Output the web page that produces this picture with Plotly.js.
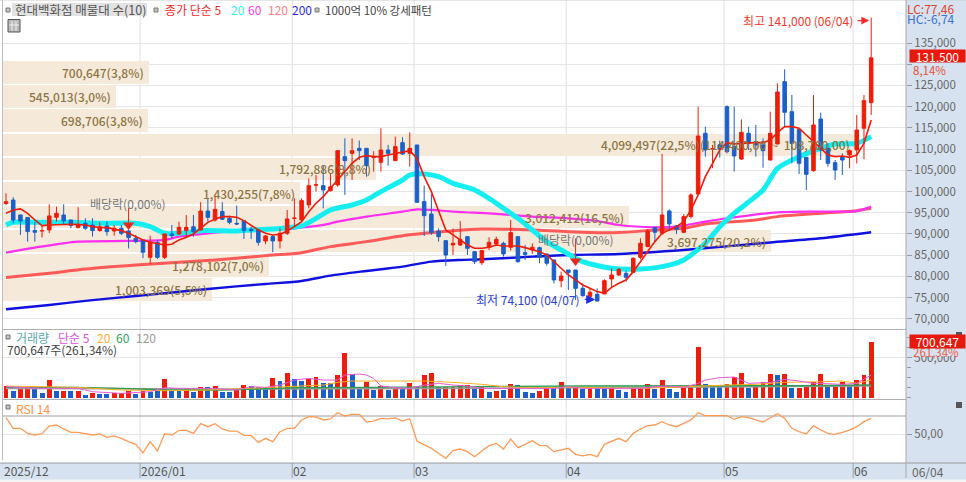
<!DOCTYPE html>
<html><head><meta charset="utf-8">
<script src="https://cdn.plot.ly/plotly-3.0.1.min.js"></script>
<style>html,body{margin:0;padding:0;background:#fff}</style></head>
<body><div id="chart" style="width:966px;height:482px"></div>
<script>
const opens=[97200,98000,94480,93900,90800,90700,90950,93930,94480,93300,91500,92500,92100,90800,91900,90700,91340,90700,89000,88600,84500,88000,84500,90000,90000,90800,91700,90950,95400,93300,95300,93700,92500,93150,91100,90950,88360,89380,88360,90160,93650,93300,96840,101500,101390,100200,101540,108220,109000,110180,110180,108000,106890,109790,107280,111520,109000,110970,97620,94710,90700,88430,87410,87410,89370,85840,83250,86860,87650,87800,86860,89370,85600,86230,86780,85300,83880,79000,81520,81520,77200,75230,75800,75870,79400,80340,80730,80970,84500,87020,91500,90160,95420,91890,90400,94090,99430,113720,110000,111000,120000,110580,107670,113720,111770,110970,107430,111200,125890,118820,114660,108060,104920,117100,110180,106810,108220,108620,109790,114900,120940];
const highs=[99600,98650,94500,94000,92900,92100,97000,96450,97000,93300,96300,93700,93700,92750,92900,92100,92100,91000,89770,88800,89600,88600,90000,92100,92900,94480,94480,97500,98400,98800,97500,94300,96700,93150,91700,90950,89770,89770,91340,95660,98400,98400,103100,103900,106257,104300,109630,112540,112540,112000,110180,109500,114900,111000,112930,112780,113950,110970,101390,99430,91340,88430,91340,93060,89370,85840,86080,89210,89370,88200,93300,89370,87410,87800,87000,85300,83880,81130,81520,81520,78380,77200,77200,79320,81910,81910,81360,84500,88980,91100,91730,108850,95820,92120,94720,99580,120000,115290,111000,112000,120300,120000,117000,115290,115680,112540,118820,125500,128800,122750,114660,108060,122750,118590,111360,107430,109000,109950,118040,122750,141000];
const lows=[96800,92500,89770,88200,88200,89150,90200,92900,92100,91340,91340,90950,89380,90550,89600,89600,89770,86600,87800,84300,82860,84100,84100,89000,89770,89000,89380,90800,92900,92900,93300,92300,92100,88830,88800,87260,87570,85700,86600,89770,91700,93070,96050,100000,96050,100000,101150,99190,102730,107430,103500,104700,104700,106100,107280,108600,105860,97460,89530,89770,88200,82460,85050,87180,85050,82930,82700,86230,87180,84660,86080,83250,83880,85300,83100,82540,78380,77440,76800,74450,75230,74450,74100,75870,77440,80100,78770,80970,84030,87020,88200,89770,90950,90000,90160,93700,99190,108220,105500,108000,109000,104700,107430,109790,108220,105630,107280,111200,115450,106650,104140,100370,104690,107430,105870,102730,103900,105470,106650,107600,118040];
const closes=[97600,93300,93070,90560,90400,90800,94250,94870,93070,92000,92300,91340,90800,91700,90550,91340,90160,89150,88200,85700,88050,84500,90000,89600,91570,91570,90550,95400,93930,95800,93460,92750,92360,90800,90800,88050,89530,88360,90160,93540,93750,97860,101390,101600,100370,101100,109630,107280,109630,109630,106100,108100,109790,109000,110580,108850,110180,97460,94320,90320,89370,85050,87800,88740,86620,83480,86080,88040,88740,85300,90320,83480,85200,86860,84500,83100,79170,80100,80900,77200,75470,76260,74200,79000,80340,81680,79800,84270,87800,90700,90400,94480,92360,91100,94090,99190,113090,109790,110100,110000,109400,108380,113950,111360,110970,109630,113720,123460,118670,111360,106650,104060,115680,109790,106650,105080,107430,109630,114500,121400,131500];
const ma5=[94870,95660,95900,94870,93300,91970,92130,92200,92360,92280,92200,92130,91735,91500,91500,91190,90790,90160,89380,88600,88050,87650,87420,87570,88600,89220,90000,91340,92750,93540,94090,94090,93930,93150,92130,90950,90160,89770,89930,90710,91735,92910,95260,97230,98800,100760,102720,104690,106650,108060,108460,108220,108220,108610,109000,109240,109630,107830,103510,99980,95660,90950,89770,88590,87410,86630,86630,86860,87410,87170,87170,87170,86780,86390,85840,85050,83480,81910,80340,79170,77990,77200,76420,76020,77440,78380,79160,81130,83480,85840,88200,90160,90950,91730,92910,95660,99190,103510,106650,109790,111520,111210,111360,111520,111520,111520,112150,113880,115290,115290,114900,113330,111760,110190,108620,108220,108380,108060,108620,111360,116860];
const ma20X=[0,1,4,9,13,18,20,22,24,27,32,34,38,41,43,45,48,50,52,55,56,58,60,62,65,67,69,71,73,75,77,80,84,88,91,94,97,99,101,105,107,110,113,115,118,120];
const ma20Y=[92130,92760,92760,92760,92520,92520,91735,90160,90160,90790,90710,90950,91300,91890,93690,95660,96830,98010,99980,102720,103900,104140,103510,101940,100370,98400,96050,93690,90950,88200,86230,83480,81910,81750,82300,83880,87800,91730,94870,100370,105470,108220,110190,111210,111360,112930];
const ma60X=[0,4,10,17,22,24,28,33,40,44,46,50,55,57,59,62,65,69,73,78,82,85,90,93,97,100,107,113,118,120];
const ma60Y=[85610,86790,88200,88360,88600,89380,90160,90790,91340,92130,92910,94080,95260,95810,95660,95260,95030,94640,94080,93690,93060,92120,91570,91730,92910,93700,95110,95270,95400,96440];
const ma120X=[0,6,11,18,29,36,41,45,50,55,58,62,66,73,78,85,90,94,97,104,107,113,118,120];
const ma120Y=[79720,80740,81760,82700,83890,84900,85600,87020,88200,89610,90160,90790,91180,90950,90550,90320,90950,91340,92360,93300,94090,94870,95500,96050];
const ma200X=[0,6,11,18,22,28,36,41,45,50,55,59,63,66,73,78,85,94,106,113,120];
const ma200Y=[72265,73280,74230,75400,76030,77050,78230,78930,80190,81290,82310,83480,83880,84030,84660,85050,85290,86230,88000,88980,90400];
const volumes=[150000,83000,108000,150000,108000,54000,221000,83000,88000,83000,79000,33000,63000,46000,46000,54000,54000,79000,50000,83000,75000,108000,234000,83000,83000,104000,71000,138000,138000,146000,71000,71000,96000,158000,146000,133000,133000,242000,209000,304000,229000,209000,229000,254000,184000,184000,279000,559000,296000,125000,200000,92000,146000,96000,129000,125000,188000,129000,279000,304000,138000,138000,138000,158000,158000,104000,129000,67000,88000,96000,171000,158000,75000,54000,88000,129000,129000,192000,117000,117000,104000,117000,117000,117000,117000,92000,75000,104000,138000,171000,104000,217000,104000,67000,117000,138000,630000,171000,138000,138000,167000,254000,304000,125000,138000,192000,292000,279000,292000,125000,125000,138000,192000,292000,138000,138000,192000,158000,221000,279000,700647];
const volFlags=("rbrrbbrbrb"+"rbrbbrrrbr"+"bbrbbrbrbr"+"bbrrbbbrbr"+"bbrrbbrrbb"+"rbrbrbrbrr"+"brrrrbrbrb"+"rbbbrrbrbr"+"brbbrbbrrr"+"brbbrrrbbb"+"rrrbrrrbrb"+"rrrrbrrbrr"+"r").split("");
const volMa5X=[0,5,10,12,16,20,22,24,28,32,34,36,38,40,42,44,46,47,49,50,51,52,54,56,58,60,62,64,66,70,73,76,78,80,84,88,90,92,94,96,97,99,101,103,106,108,110,112,114,116,118,120];
const volMa5Y=[138000,117000,117000,75000,54000,75000,125000,117000,117000,96000,138000,129000,158000,221000,242000,221000,221000,284000,296000,284000,242000,146000,125000,117000,158000,179000,158000,146000,117000,117000,117000,117000,138000,117000,117000,117000,138000,146000,129000,179000,221000,250000,259000,179000,192000,229000,209000,179000,175000,167000,179000,284000];
const volMa20X=[0,10,16,22,28,34,38,44,46,48,52,58,62,66,69,72,80,88,92,96,100,104,108,113,116,118,120];
const volMa20Y=[146000,129000,96000,88000,96000,117000,129000,158000,192000,209000,209000,209000,192000,167000,138000,125000,129000,117000,129000,146000,158000,167000,192000,200000,209000,179000,221000];
const volMa60X=[0,10,16,22,30,40,50,60,70,80,90,100,110,120];
const volMa60Y=[129000,129000,117000,96000,96000,125000,129000,138000,142000,146000,146000,150000,150000,158000];
const volMa120X=[0,30,60,90,120];
const volMa120Y=[117000,108000,117000,133000,146000];
const rsi=[68.1,56.3,56.3,50.7,48.9,50.4,58.9,60,55.6,51.9,51.9,50,48.9,50,46.3,47.8,45.2,41.5,38.5,28.9,41.5,31.1,50.4,48.9,54.1,54.1,50.7,61.5,58.1,61.5,55.6,53.3,53.3,48.5,48.1,40.7,45.2,41.5,52.6,56.3,56.3,65.6,69.3,68.9,65.6,66.7,73.7,70,71.9,71.9,63.3,64.4,67.4,66.7,67.8,64.4,67,42.2,38.5,34.1,28.5,23,31.5,33.3,30.4,24.8,31.1,37,39.6,33.3,44.4,34.8,38.5,42.6,37.4,37,30.4,32.2,34.1,27.4,25.6,27.4,24.8,38.5,42.2,45.2,41.5,50.7,55.6,59.3,60,63.7,60,58.1,61.9,65.6,73.7,70.4,70.4,70.4,70.4,66.3,69.3,68.1,65.6,63.3,68.1,72.6,67.4,56.3,52.6,50,59.3,54.4,50.7,49.6,51.9,54.4,58.1,63.7,67.4];
const profileVolumes=[700647,545013,698706,4099497,1792886,1430255,3012412,3697275,1278102,1003369];
const profilePrices=[128050,122370,116690,111010,105330,99650,93970,88290,82610,76930];
const profileLabels=["700,647(3,8%)","545,013(3,0%)","698,706(3,8%)","4,099,497(22,5%)(114,400,00&nbsp;&nbsp;~&nbsp;&nbsp;108,700,00)","1,792,886(9,8%)","1,430,255(7,8%)","3,012,412(16,5%)","3,697,275(20,2%)","1,278,102(7,0%)","1,003,369(5,5%)"];
const priceTicks=[70000,75000,80000,85000,90000,95000,100000,105000,110000,115000,120000,125000,130000,135000];
const priceTickLabels=["70,000","75,000","80,000","85,000","90,000","95,000","100,000","105,000","110,000","115,000","120,000","125,000","","135,000"];
const monthIdx=[18.6,39.7,56.6,77.7,99.6,117.5];
const monthLabels=["2025/12","2026/01","02","03","04","05","06"];
const dividendIdx=[17,79];
const dividendPrice=[92120,83640];
const dividendTop=[96120,88950];

const W=966,H=482,L=3,R=60,T=0,B=22,PW=W-L-R,PH=H-T-B;
const px=x=>(x-L)/PW, py=y=>1-(y-T)/PH;
const FONT='"Noto Sans CJK KR","Noto Sans",sans-serif';
const IDX=[-0.416,124.83];
const PRED='#ee1c0a',PBLUE='#1c5fc9';

function note(x,y,text,color,size,anchor,extra){
  return Object.assign({xref:'paper',yref:'paper',x:px(x),y:py(y),text:text,showarrow:false,xanchor:anchor||'left',yanchor:'middle',
    font:{family:FONT,size:size||12,color:color},borderpad:0,borderwidth:0},extra||{});
}
function rect(x0,y0,x1,y1,fill,line,layer){
  return {type:'rect',xref:'paper',yref:'paper',x0:px(x0),x1:px(x1),y0:py(y0),y1:py(y1),fillcolor:fill,line:{color:line||fill,width:line?1:0},layer:layer||'above'};
}
const trace=[];
trace.push({type:'bar',orientation:'h',x:profileVolumes,y:profilePrices,width:5300,xaxis:'x',yaxis:'y',marker:{color:'#f5e9d9',line:{width:0}},hoverinfo:'skip'});
const thick=(x,y,c,w)=>({type:'scatter',mode:'lines',x:x,y:y,xaxis:'x2',yaxis:'y',line:{color:c,width:w,shape:'spline',smoothing:0.7},hoverinfo:'skip'});
trace.push(thick(ma200X,ma200Y,'#1010e0',2.4));
trace.push(thick(ma120X,ma120Y,'#ff5a5a',3));
trace.push(thick(ma60X,ma60Y,'#ff2ef0',2.2));
trace.push(thick(ma20X,ma20Y,'#14eef0',5));
trace.push({type:'candlestick',x:opens.map((_,i)=>i),open:opens,high:highs,low:lows,close:closes,xaxis:'x3',yaxis:'y',whiskerwidth:0,
  increasing:{line:{color:PRED,width:1},fillcolor:PRED},decreasing:{line:{color:PBLUE,width:1},fillcolor:PBLUE},hoverinfo:'skip'});
trace.push({type:'scatter',mode:'lines',x:opens.map((_,i)=>i),y:ma5,xaxis:'x3',yaxis:'y',line:{color:'#ee1c0a',width:1.6},hoverinfo:'skip'});
const dl=[],dp=[];dividendIdx.forEach((d,k)=>{dl.push(d,d,null);dp.push(dividendTop[k],dividendPrice[k],null);});
trace.push({type:'scatter',mode:'lines',x:dl,y:dp,xaxis:'x3',yaxis:'y',line:{color:'#e8281a',width:1},hoverinfo:'skip'});
trace.push({type:'scatter',mode:'markers',x:dividendIdx,y:dividendPrice,xaxis:'x3',yaxis:'y',marker:{symbol:'triangle-down',size:10,color:'#e8281a'},hoverinfo:'skip'});
trace.push({type:'bar',x:volumes.map((_,i)=>i),y:volumes,width:0.68,xaxis:'x4',yaxis:'y2',marker:{color:volFlags.map(f=>f==='r'?PRED:PBLUE),line:{width:0}},hoverinfo:'skip'});
const vl=(x,y,c,w)=>({type:'scatter',mode:'lines',x:x,y:y,xaxis:'x4',yaxis:'y2',line:{color:c,width:w},hoverinfo:'skip'});
trace.push(vl(volMa120X,volMa120Y,'#9a9a9a',1.6));
trace.push(vl(volMa60X,volMa60Y,'#2f9e55',1.4));
trace.push(vl(volMa20X,volMa20Y,'#ffb020',1));
trace.push(vl(volMa5X,volMa5Y,'#e85ad8',1));
trace.push({type:'scatter',mode:'lines',x:rsi.map((_,i)=>i),y:rsi,xaxis:'x5',yaxis:'y3',line:{color:'#ff9a55',width:1.3},hoverinfo:'skip'});

const shapes=[];
monthIdx.forEach(m=>{
  shapes.push({type:'line',xref:'x2',yref:'paper',x0:m,x1:m,y0:0,y1:1,line:{color:'#e0e0e0',width:1},layer:'below'});
  shapes.push({type:'line',xref:'x2',yref:'paper',x0:m,x1:m,y0:py(461),y1:py(478),line:{color:'#9aa4b0',width:1},layer:'above'});
});
shapes.push(rect(0,0,3,460,'#ffffff'));
shapes.push({type:'line',xref:'paper',yref:'paper',x0:px(2.5),x1:px(2.5),y0:py(0),y1:py(460),line:{color:'#bdbdbd',width:1},layer:'above'});
shapes.push(rect(0,460,906,463,'#ffffff'));
shapes.push({type:'line',xref:'paper',yref:'paper',x0:px(0),x1:px(966),y0:py(463),y1:py(463),line:{color:'#9a9a9a',width:1},layer:'above'});
shapes.push(rect(0,479.5,966,482,'#f4f4f4'));
shapes.push(rect(0,0,966,0.5,'#cccccc'));
shapes.push({type:'line',xref:'paper',yref:'paper',x0:px(906),x1:px(906),y0:py(0),y1:py(478),line:{color:'#a8a8a8',width:1},layer:'above'});
shapes.push({type:'line',xref:'paper',yref:'y3',x0:0,x1:1,y0:70,y1:70,line:{color:'#9e9e9e',width:1},layer:'below'});
shapes.push(rect(12,3,147,16,'#e2e2e2'));
[[6,10,10],[154,158,10],[315,319,10],[6,10,337],[6,10,407]].forEach(s=>shapes.push(rect(s[0],s[2]-2,s[1],s[2]+2,'#c4c4c4','#777777')));
shapes.push(rect(8,19.5,20,32,'#b8b8b8','#555555'));
shapes.push({type:'line',xref:'paper',yref:'paper',x0:px(12),x1:px(12),y0:py(21),y1:py(31),line:{color:'#eeeeee',width:1}});
shapes.push({type:'line',xref:'paper',yref:'paper',x0:px(16),x1:px(16),y0:py(21),y1:py(31),line:{color:'#eeeeee',width:1}});
shapes.push({type:'line',xref:'paper',yref:'paper',x0:px(9),x1:px(19),y0:py(25),y1:py(25),line:{color:'#eeeeee',width:1}});
shapes.push(rect(956,332,962,338,'#555555'));
shapes.push(rect(956,402,962,408,'#555555'));
// the percent label hides the top of the 500,000 tick label, as in the reference
shapes.push(rect(911,347,965,356,'#d6e2f0'));

const ann=[];
ann.push(note(15,10,'현대백화점 매물대 수(10)','#555555',12.5));
ann.push(note(165,10,'종가 단순 5','#ee2a2a',12));
ann.push(note(231,10,'20','#35f0f0',12));
ann.push(note(248,10,'60','#ff3af0',12));
ann.push(note(268,10,'120','#ff7f7f',12));
ann.push(note(292,10,'200','#2a2ae8',12));
ann.push(note(325,10,'1000억 10% 강세패턴','#444444',11.5));
ann.push(note(16,337,'거래량','#58a8a8',12));
ann.push(note(58,337,'단순 5','#e050d8',12));
ann.push(note(97,337,'20','#ffb030',12));
ann.push(note(116,337,'60','#30a060',12));
ann.push(note(136,337,'120','#999999',12));
ann.push(note(7,349,'700,647주(261,34%)','#444444',12));
ann.push(note(16,408,'RSI 14','#ff9040',12));
profileVolumes.forEach((v,k)=>ann.push({xref:'x',yref:'y',x:v,y:profilePrices[k],text:profileLabels[k],showarrow:false,xanchor:'right',yanchor:'middle',xshift:-3,
  font:{family:FONT,size:12,color:'#8c7443',weight:500}}));
ann.push(note(90,203,'배당락(0,00%)','#777777',12));
ann.push(note(538,239,'배당락(0,00%)','#777777',12));
ann.push({xref:'x3',yref:'y',x:120,y:141000,yshift:-3,xshift:-2,text:'최고 141,000 (06/04)',showarrow:true,axref:'pixel',ayref:'pixel',ax:-71,ay:0,arrowhead:2,arrowsize:1.3,arrowwidth:1.2,arrowcolor:'#ee2a2a',startstandoff:3,
  font:{family:FONT,size:12,color:'#ee3a2a'}});
ann.push({xref:'x3',yref:'y',x:82,y:74100,yshift:2,xshift:-2,text:'최저 74,100 (04/07)',showarrow:true,axref:'pixel',ayref:'pixel',ax:-67,ay:0,arrowhead:2,arrowsize:1.5,arrowwidth:1.2,arrowcolor:'#1a2ee0',startstandoff:3,
  font:{family:FONT,size:12,color:'#2a3ed8'}});
ann.push(note(907,8,'LC:77,46','#e0452a',12));
ann.push(note(907,19,'HC:-6,74','#4070d8',12));
ann.push({xref:'paper',yref:'y',x:px(937.5),y:131500,yshift:2,text:'131,500',showarrow:false,xanchor:'center',yanchor:'middle',width:55,height:12,bgcolor:'#e8190c',borderpad:0,font:{family:FONT,size:12,color:'#ffffff'}});
ann.push(note(913,70,'8,14%','#e8503a',11.5));
ann.push(note(913,352,'261,34%','#e8604a',11.5));
ann.push({xref:'paper',yref:'y2',x:px(937.5),y:700647,text:'700,647',showarrow:false,xanchor:'center',yanchor:'middle',width:55,height:13,bgcolor:'#e8190c',borderpad:0,font:{family:FONT,size:12,color:'#ffffff'}});
const monthX=[-0.35].concat(monthIdx);
monthLabels.forEach((t,k)=>ann.push({xref:'x2',yref:'paper',x:monthX[k],y:py(470.5),text:t,showarrow:false,xanchor:'left',yanchor:'middle',xshift:-1,font:{family:FONT,size:12,color:'#555555'}}));
ann.push(note(912,471,'06/04','#666666',12));

const tick={family:FONT,size:11.5,color:'#666666'};
const layout={
  width:W,height:H,margin:{l:L,r:R,t:T,b:B,pad:0},paper_bgcolor:'#d6e2f0',plot_bgcolor:'#ffffff',showlegend:false,
  font:{family:FONT,size:12,color:'#666666'},dragmode:false,bargap:0,
  xaxis:{domain:[0,1],range:[0,4345500],anchor:'y',showgrid:false,zeroline:false,showticklabels:false,ticks:'',showline:true,linecolor:'#b0b0b0',linewidth:1},
  xaxis2:{overlaying:'x',range:IDX,anchor:'y',visible:false},
  xaxis3:{overlaying:'x',range:IDX,anchor:'y',visible:false,rangeslider:{visible:false}},
  xaxis4:{domain:[0,1],range:IDX,anchor:'y2',showgrid:false,zeroline:false,showticklabels:false,ticks:'',showline:true,linecolor:'#b0b0b0',linewidth:1},
  xaxis5:{domain:[0,1],range:IDX,anchor:'y3',showgrid:false,zeroline:false,showticklabels:false,ticks:'',showline:true,linecolor:'#9a9a9a',linewidth:1},
  yaxis:{domain:[(PH-329)/PH,1],range:[67611,145132],anchor:'x',side:'right',tickmode:'array',tickvals:priceTicks,ticktext:priceTickLabels,
    showgrid:true,gridcolor:'#e6e6e6',gridwidth:1,zeroline:false,ticks:'outside',ticklen:5,tickcolor:'#9a9a9a',tickfont:tick,showline:false},
  yaxis2:{domain:[(PH-399)/PH,(PH-329)/PH],range:[-16265,859600],anchor:'x4',side:'right',tickmode:'array',tickvals:[500000],ticktext:['500,000'],
    showgrid:true,gridcolor:'#e6e6e6',zeroline:false,ticks:'outside',ticklen:5,tickcolor:'#9a9a9a',tickfont:tick,showline:false,
    minor:{tickmode:'array',tickvals:[0,125000,250000,375000,625000,750000],ticks:'outside',ticklen:4,tickcolor:'#9a9a9a',showgrid:false}},
  yaxis3:{domain:[0,(PH-399)/PH],range:[21.1,88.9],anchor:'x5',side:'right',tickmode:'array',tickvals:[50],ticktext:['50,00'],
    showgrid:true,gridcolor:'#e6e6e6',zeroline:false,ticks:'outside',ticklen:5,tickcolor:'#9a9a9a',tickfont:tick,showline:false},
  shapes:shapes,annotations:ann
};
Plotly.newPlot('chart',trace,layout,{staticPlot:true,displayModeBar:false});
</script></body></html>
